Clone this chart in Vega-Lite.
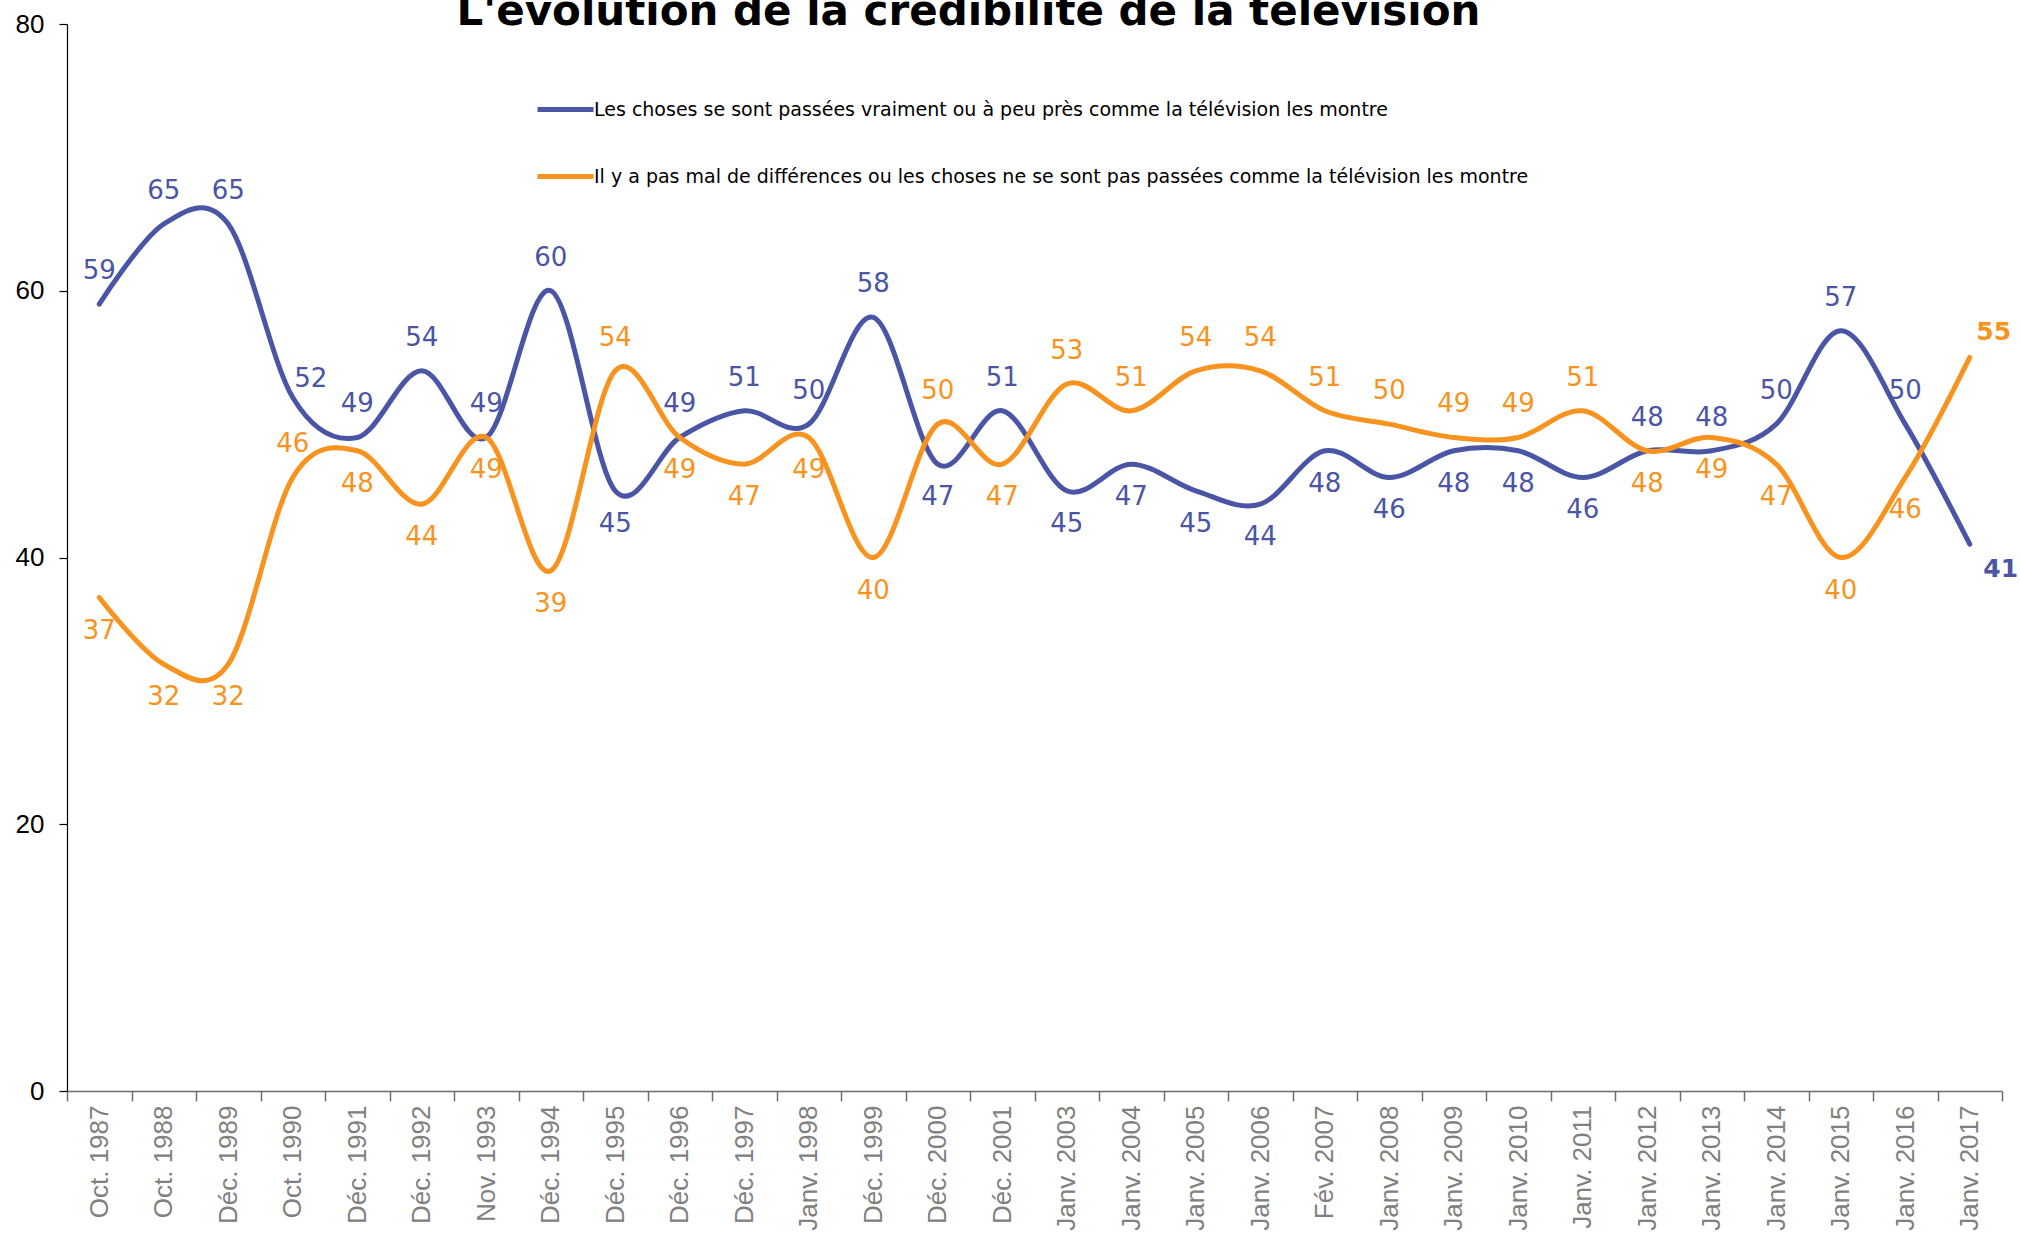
{
  "$schema": "https://vega.github.io/schema/vega-lite/v6.json",
  "autosize": {"type": "none"},
  "width": 1935,
  "height": 1067,
  "padding": {"left": 67, "top": 24, "right": 18, "bottom": 146},
  "background": "white",
  "title": {
    "text": "L'évolution de la crédibilité de la télévision",
    "font": "DejaVu Sans",
    "fontSize": 42,
    "fontWeight": "bold",
    "color": "#000000",
    "anchor": "middle",
    "frame": "group",
    "baseline": "alphabetic",
    "offset": 0,
    "dx": -66,
    "dy": 56
  },
  "config": {
    "view": {"stroke": null},
    "axis": {"grid": false}
  },
  "data": {
    "values": [
      {"date": "Oct. 1987", "vrai": 59, "diff": 37},
      {"date": "Oct. 1988", "vrai": 65, "diff": 32},
      {"date": "Déc. 1989", "vrai": 65, "diff": 32},
      {"date": "Oct. 1990", "vrai": 52, "diff": 46},
      {"date": "Déc. 1991", "vrai": 49, "diff": 48},
      {"date": "Déc. 1992", "vrai": 54, "diff": 44},
      {"date": "Nov. 1993", "vrai": 49, "diff": 49},
      {"date": "Déc. 1994", "vrai": 60, "diff": 39},
      {"date": "Déc. 1995", "vrai": 45, "diff": 54},
      {"date": "Déc. 1996", "vrai": 49, "diff": 49},
      {"date": "Déc. 1997", "vrai": 51, "diff": 47},
      {"date": "Janv. 1998", "vrai": 50, "diff": 49},
      {"date": "Déc. 1999", "vrai": 58, "diff": 40},
      {"date": "Déc. 2000", "vrai": 47, "diff": 50},
      {"date": "Déc. 2001", "vrai": 51, "diff": 47},
      {"date": "Janv. 2003", "vrai": 45, "diff": 53},
      {"date": "Janv. 2004", "vrai": 47, "diff": 51},
      {"date": "Janv. 2005", "vrai": 45, "diff": 54},
      {"date": "Janv. 2006", "vrai": 44, "diff": 54},
      {"date": "Fév. 2007", "vrai": 48, "diff": 51},
      {"date": "Janv. 2008", "vrai": 46, "diff": 50},
      {"date": "Janv. 2009", "vrai": 48, "diff": 49},
      {"date": "Janv. 2010", "vrai": 48, "diff": 49},
      {"date": "Janv. 2011", "vrai": 46, "diff": 51},
      {"date": "Janv. 2012", "vrai": 48, "diff": 48},
      {"date": "Janv. 2013", "vrai": 48, "diff": 49},
      {"date": "Janv. 2014", "vrai": 50, "diff": 47},
      {"date": "Janv. 2015", "vrai": 57, "diff": 40},
      {"date": "Janv. 2016", "vrai": 50, "diff": 46},
      {"date": "Janv. 2017", "vrai": 41, "diff": 55}
    ]
  },
  "encoding": {
    "x": {
      "field": "date",
      "type": "nominal",
      "sort": null,
      "bandPosition": 0.5,
      "scale": {"type": "band", "paddingInner": 0, "paddingOuter": 0},
      "axis": {
        "title": null,
        "labelAngle": -90,
        "labelAlign": "right",
        "labelBaseline": "middle",
        "labelFont": "Liberation Sans",
        "labelFontSize": 26,
        "labelColor": "#808080",
        "labelPadding": 4,
        "labelLimit": 0,
        "tickBand": "extent",
        "tickSize": 10,
        "tickColor": "#6e6e6e",
        "tickWidth": 1.5,
        "domainColor": "#6e6e6e",
        "domainWidth": 1.5
      }
    }
  },
  "layer": [
    {
      "transform": [{"fold": ["vrai", "diff"], "as": ["serie", "valeur"]}],
      "mark": {"type": "line", "interpolate": "cardinal", "strokeWidth": 5, "strokeCap": "round", "strokeJoin": "round"},
      "encoding": {
        "y": {
          "field": "valeur",
          "type": "quantitative",
          "scale": {"domain": [0, 80], "nice": false},
          "axis": {
            "title": null,
            "values": [0, 20, 40, 60, 80],
            "labelFont": "Liberation Sans",
            "labelFontSize": 26,
            "labelColor": "#000000",
            "labelPadding": 15,
            "tickSize": 8,
            "tickColor": "#000000",
            "tickWidth": 1.2,
            "domainColor": "#000000",
            "domainWidth": 1.2
          }
        },
        "color": {
          "field": "serie",
          "type": "nominal",
          "scale": {"domain": ["vrai", "diff"], "range": ["#4a55a6", "#f7931e"]},
          "legend": {
            "orient": "none",
            "legendX": 468,
            "legendY": 55,
            "direction": "vertical",
            "title": null,
            "symbolType": "stroke",
            "symbolSize": 3136,
            "symbolStrokeWidth": 5,
            "labelFont": "DejaVu Sans",
            "labelFontSize": 19,
            "labelColor": "#000000",
            "labelOffset": -2,
            "labelLimit": 0,
            "rowPadding": 26,
            "labelExpr": "datum.value == 'vrai' ? 'Les choses se sont passées vraiment ou à peu près comme la télévision les montre' : 'Il y a pas mal de différences ou les choses ne se sont pas passées comme la télévision les montre'"
          }
        }
      }
    },
    {
      "transform": [{"filter": "datum.date != 'Janv. 2017' && datum.date != 'Oct. 1990' && (datum.vrai >= datum.diff || datum.date == 'Janv. 2013')"}],
      "mark": {"type": "text", "font": "DejaVu Sans", "fontSize": 26, "color": "#4a55a6", "baseline": "middle", "dy": -33},
      "encoding": {"y": {"field": "vrai", "type": "quantitative"}, "text": {"field": "vrai", "type": "quantitative"}}
    },
    {
      "transform": [{"filter": "datum.date == 'Oct. 1990'"}],
      "mark": {"type": "text", "font": "DejaVu Sans", "fontSize": 26, "color": "#4a55a6", "baseline": "middle", "dx": 18, "dy": -18},
      "encoding": {"y": {"field": "vrai", "type": "quantitative"}, "text": {"field": "vrai", "type": "quantitative"}}
    },
    {
      "transform": [{"filter": "datum.date != 'Janv. 2017' && datum.date != 'Janv. 2013' && datum.vrai < datum.diff"}],
      "mark": {"type": "text", "font": "DejaVu Sans", "fontSize": 26, "color": "#4a55a6", "baseline": "middle", "dy": 33},
      "encoding": {"y": {"field": "vrai", "type": "quantitative"}, "text": {"field": "vrai", "type": "quantitative"}}
    },
    {
      "transform": [{"filter": "datum.date != 'Janv. 2017' && datum.date != 'Janv. 2013' && (datum.diff > datum.vrai || datum.date == 'Oct. 1990')"}],
      "mark": {"type": "text", "font": "DejaVu Sans", "fontSize": 26, "color": "#f7931e", "baseline": "middle", "dy": -33},
      "encoding": {"y": {"field": "diff", "type": "quantitative"}, "text": {"field": "diff", "type": "quantitative"}}
    },
    {
      "transform": [{"filter": "datum.date != 'Janv. 2017' && datum.date != 'Oct. 1990' && (datum.diff <= datum.vrai || datum.date == 'Janv. 2013')"}],
      "mark": {"type": "text", "font": "DejaVu Sans", "fontSize": 26, "color": "#f7931e", "baseline": "middle", "dy": 33},
      "encoding": {"y": {"field": "diff", "type": "quantitative"}, "text": {"field": "diff", "type": "quantitative"}}
    },
    {
      "transform": [{"filter": "datum.date == 'Janv. 2017'"}],
      "mark": {"type": "text", "font": "DejaVu Sans", "fontSize": 25, "fontWeight": "bold", "color": "#4a55a6", "baseline": "middle", "dx": 31, "dy": 25},
      "encoding": {"y": {"field": "vrai", "type": "quantitative"}, "text": {"field": "vrai", "type": "quantitative"}}
    },
    {
      "transform": [{"filter": "datum.date == 'Janv. 2017'"}],
      "mark": {"type": "text", "font": "DejaVu Sans", "fontSize": 25, "fontWeight": "bold", "color": "#f7931e", "baseline": "middle", "dx": 24, "dy": -25},
      "encoding": {"y": {"field": "diff", "type": "quantitative"}, "text": {"field": "diff", "type": "quantitative"}}
    }
  ]
}
